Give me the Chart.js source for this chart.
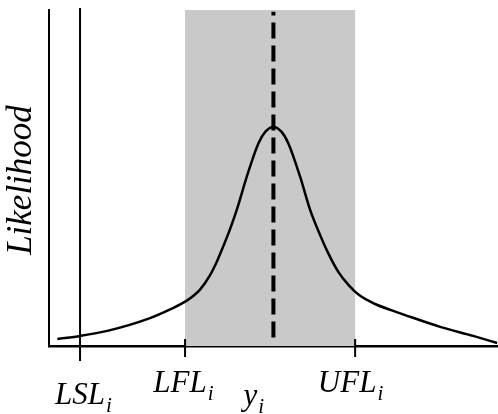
<!DOCTYPE html>
<html>
<head>
<meta charset="utf-8">
<script src="https://cdn.jsdelivr.net/npm/chart.js@4"></script>
<style>
  html, body { margin: 0; padding: 0; background: #fff; }
  #wrap { width: 498px; height: 414px; }
</style>
</head>
<body>
<div id="wrap"><canvas id="likelihoodChart"></canvas></div>
<script>
// Curve
const curveX = [-2.502, -2.232, -1.914, -1.412, -1.176, -0.980, -0.824, -0.706, -0.627, -0.549, -0.471, -0.392, -0.274, -0.138, -0.055, 0.039, 0.133, 0.215, 0.353, 0.471, 0.588, 0.686, 0.804, 0.921, 1.039, 1.235, 1.432, 1.588, 2.0, 2.388, 2.67];
const curveY = [0.021, 0.030, 0.045, 0.083, 0.109, 0.135, 0.168, 0.211, 0.251, 0.298, 0.348, 0.405, 0.504, 0.603, 0.638, 0.652, 0.638, 0.603, 0.504, 0.405, 0.330, 0.275, 0.220, 0.182, 0.153, 0.125, 0.106, 0.092, 0.057, 0.030, 0.009];

// Marker positions on the x axis
const markerNames = ['LSL', 'LFL', 'y', 'UFL'];
const markerX = [-2.235, -1.0, 0.039, 1.0];
const xRange = [-2.6, 2.68];

const LSL = markerX[0], LFL = markerX[1], Y_I = markerX[2], UFL = markerX[3];

// Shaded band between LFL and UFL + ticks + labels
const decorPlugin = {
  id: 'decor',
  beforeDatasetsDraw(chart) {
    const { ctx, chartArea, scales } = chart;
    const x0 = scales.x.getPixelForValue(LFL);
    const x1 = scales.x.getPixelForValue(UFL);
    ctx.save();
    ctx.fillStyle = '#c9c9c9';
    ctx.fillRect(x0, chartArea.top, x1 - x0, chartArea.bottom - chartArea.top);
    ctx.restore();
  },
  afterDraw(chart) {
    const { ctx, chartArea, scales } = chart;
    const base = chartArea.bottom;
    ctx.save();
    // ticks at LFL and UFL
    ctx.strokeStyle = '#000';
    ctx.lineWidth = 2;
    [LFL, UFL].forEach(v => {
      const px = scales.x.getPixelForValue(v);
      ctx.beginPath();
      ctx.moveTo(px, base - 7);
      ctx.lineTo(px, base + 11);
      ctx.stroke();
    });

    // labels with subscript i
    const offsets = { LSL: [0, 58], LFL: [-5, 46], y: [-23, 59], UFL: [-8, 46] };
    ctx.fillStyle = '#000';
    ctx.textBaseline = 'alphabetic';
    markerNames.forEach((name, k) => {
      const px = scales.x.getPixelForValue(markerX[k]) + offsets[name][0];
      const py = base + offsets[name][1];
      ctx.font = 'italic 31px "Liberation Serif"';
      ctx.textAlign = 'center';
      ctx.fillText(name, px, py);
      const w = ctx.measureText(name).width;
      ctx.font = 'italic 21px "Liberation Serif"';
      ctx.textAlign = 'left';
      ctx.fillText('i', px + w / 2 + 1, py + 8);
    });

    // y axis title
    ctx.font = 'italic 35px "Liberation Serif"';
    ctx.textAlign = 'center';
    ctx.translate(31, 180);
    ctx.rotate(-Math.PI / 2);
    ctx.fillText('Likelihood', 0, 0);
    ctx.restore();
  }
};

const ctx = document.getElementById('likelihoodChart').getContext('2d');
const chart = new Chart(ctx, {
  type: 'line',
  data: {
    datasets: [
      {
        label: 'likelihood',
        data: curveX.map((x, i) => ({ x: x, y: curveY[i] })),
        borderColor: '#000',
        borderWidth: 2.5,
        pointRadius: 0,
        cubicInterpolationMode: 'monotone',
        fill: false
      },
      {
        label: 'y_i',
        data: [{ x: Y_I, y: 0.025 }, { x: Y_I, y: 0.995 }],
        borderColor: '#000',
        borderWidth: 4,
        borderDash: [16, 7],
        pointRadius: 0
      },
      {
        label: 'LSL',
        data: [{ x: LSL, y: -0.045 }, { x: LSL, y: 1.006 }],
        borderColor: '#000',
        borderWidth: 2,
        pointRadius: 0,
        clip: false
      }
    ]
  },
  options: {
    responsive: true,
    maintainAspectRatio: false,
    animation: false,
    layout: { padding: { left: 49, top: 10, right: 0, bottom: 68 } },
    plugins: {
      legend: { display: false },
      tooltip: { enabled: false }
    },
    scales: {
      x: {
        type: 'linear',
        min: xRange[0],
        max: xRange[1],
        grid: { display: false, drawTicks: false },
        ticks: { display: false, padding: 0 },
        border: { display: true, color: '#000', width: 2.5 }
      },
      y: {
        min: 0,
        max: 1,
        grid: { display: false, drawTicks: false },
        ticks: { display: false, padding: 0 },
        border: { display: true, color: '#000', width: 2 }
      }
    }
  },
  plugins: [decorPlugin]
});
</script>
</body>
</html>
